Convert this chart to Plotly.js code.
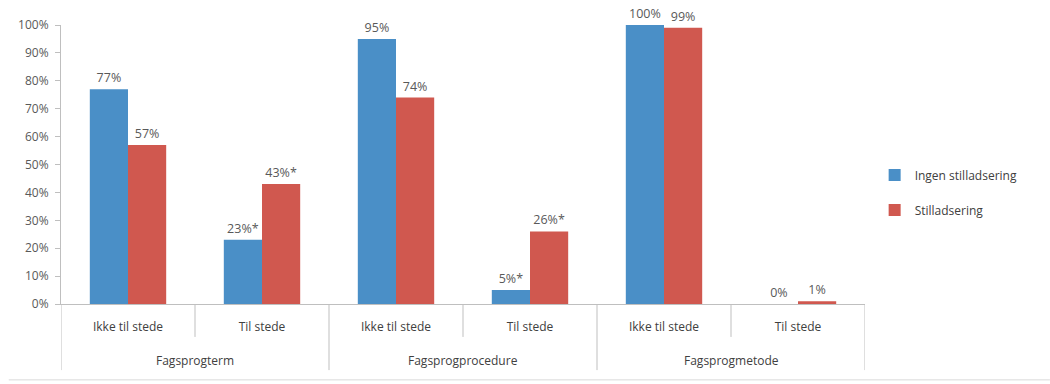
<!DOCTYPE html>
<html>
<head>
<meta charset="utf-8">
<script src="https://cdn.plot.ly/plotly-3.0.1.min.js"></script>
<style>html,body{margin:0;padding:0;background:#fff;}#chart{width:1050px;height:384px;}</style>
</head>
<body>
<div id="chart"></div>
<script>
const groups = ["Fagsprogterm", "Fagsprogterm", "Fagsprogprocedure", "Fagsprogprocedure", "Fagsprogmetode", "Fagsprogmetode"];
const subcats = ["Ikke til stede", "Til stede", "Ikke til stede", "Til stede", "Ikke til stede", "Til stede"];
const groupNames = ["Fagsprogterm", "Fagsprogprocedure", "Fagsprogmetode"];
const seriesNames = ["Ingen stilladsering", "Stilladsering"];
const ingenValues = [77, 23, 95, 5, 100, 0];
const stillValues = [57, 43, 74, 26, 99, 1];
const ingenLabels = ["77%", "23%*", "95%", "5%*", "100%", "0%"];
const stillLabels = ["57%", "43%*", "74%", "26%*", "99%", "1%"];
const yTicks = [0, 10, 20, 30, 40, 50, 60, 70, 80, 90, 100];

const keys = groups.map((g, i) => g + " / " + subcats[i]);
const yTickText = yTicks.map(v => v + "%");
const txtColor = "#595959";
const lineColor = "#bfbfbf";

const traces = [
  {type: "bar", name: seriesNames[0], legendgroup: "a", x: keys, y: ingenValues,
   text: ingenLabels, textposition: "outside", cliponaxis: false, textangle: 0,
   textfont: {size: 12.5, color: txtColor}, marker: {color: "#4a8fc7"}},
  {type: "bar", name: seriesNames[1], legendgroup: "b", x: keys, y: stillValues,
   text: stillLabels, textposition: "outside", cliponaxis: false, textangle: 0,
   textfont: {size: 12.5, color: txtColor}, marker: {color: "#d0584f"}}
];

const shapes = [];
for (let i = 0; i <= keys.length; i++) {
  const isGroupEdge = (i % 2 === 0);
  shapes.push({type: "line", xref: "x", yref: "paper", x0: i - 0.5, x1: i - 0.5,
    y0: 0, y1: isGroupEdge ? -0.237 : -0.118, line: {color: lineColor, width: 1}});
}
shapes.push({type: "line", xref: "paper", yref: "paper", x0: -0.065, x1: 1.23,
  y0: -0.272, y1: -0.272, line: {color: "#d9d9d9", width: 1}});

const annotations = groupNames.map((g, k) => ({
  text: g, xref: "x", yref: "paper", x: 2 * k + 0.5, y: -0.204,
  xanchor: "center", yanchor: "middle", showarrow: false,
  font: {size: 12, color: "#404040"}
}));

const layout = {
  width: 1050, height: 384,
  margin: {l: 61, r: 185, t: 25, b: 80},
  font: {family: "Open Sans, Liberation Sans, sans-serif", size: 11, color: txtColor},
  barmode: "group", bargap: 0.43, bargroupgap: 0,
  paper_bgcolor: "#fff", plot_bgcolor: "#fff",
  showlegend: true,
  legend: {x: 1.012, xanchor: "left", y: 0.40, yanchor: "middle",
           font: {size: 12, color: "#404040"}, tracegroupgap: 16, itemwidth: 30},
  xaxis: {type: "category", tickvals: keys, ticktext: subcats, showline: true,
          linecolor: lineColor, linewidth: 1, ticks: "", showgrid: false,
          range: [-0.5, keys.length - 0.5], ticklabelstandoff: 12,
          tickfont: {size: 12, color: "#404040"}},
  yaxis: {range: [0, 100], tickvals: yTicks, ticktext: yTickText, showgrid: false,
          showline: true, linecolor: lineColor, linewidth: 1, ticks: "outside",
          ticklen: 5, tickcolor: lineColor, zeroline: false, ticklabelstandoff: 4,
          tickfont: {size: 12, color: txtColor}},
  shapes: shapes,
  annotations: annotations
};
Plotly.newPlot("chart", traces, layout, {staticPlot: true, displayModeBar: false});
</script>
</body>
</html>
